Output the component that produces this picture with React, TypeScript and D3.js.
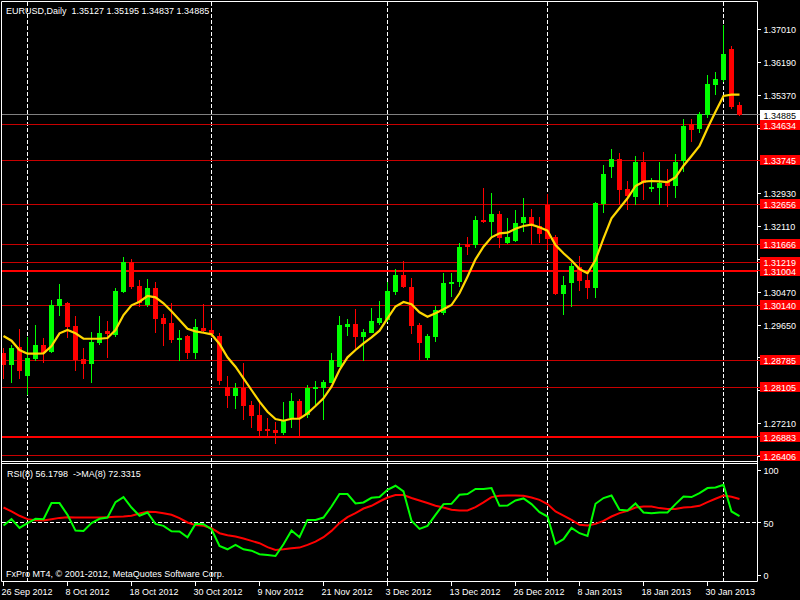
import React from 'react';
import * as d3 from 'd3';

// ---- data (EURUSD Daily, 26 Sep 2012 .. 5 Feb 2013) ----
const opens = [1.28959,1.28661,1.29101,1.28387,1.28810,1.29158,1.28984,1.30127,1.30209,1.29630,1.28810,1.28693,1.29215,1.29506,1.29406,1.30475,1.31220,1.30624,1.30152,1.30567,1.29836,1.29712,1.29282,1.29381,1.28966,1.29588,1.29531,1.29389,1.28114,1.27890,1.28097,1.27667,1.27418,1.27070,1.27045,1.26978,1.27336,1.27766,1.27418,1.28064,1.28082,1.28206,1.28619,1.29613,1.29680,1.29364,1.29449,1.29697,1.29780,1.30482,1.30897,1.30599,1.29655,1.28842,1.29364,1.29946,1.30681,1.30731,1.31668,1.31643,1.32264,1.32222,1.32413,1.31693,1.31742,1.32197,1.32339,1.32115,1.32629,1.31842,1.30425,1.30699,1.31104,1.30773,1.30582,1.32669,1.33589,1.33780,1.33034,1.32843,1.33705,1.33042,1.33067,1.33226,1.33116,1.33738,1.34650,1.34533,1.34873,1.35619,1.35743,1.36513,1.35127];
const highs = [1.29091,1.29158,1.29555,1.29364,1.29655,1.29332,1.30276,1.30674,1.30226,1.29878,1.29083,1.29481,1.29878,1.29754,1.30567,1.31345,1.31295,1.30773,1.30798,1.30716,1.29936,1.30209,1.29531,1.29406,1.29804,1.30177,1.29779,1.29463,1.28387,1.28221,1.28711,1.27766,1.27724,1.27336,1.27252,1.27741,1.27965,1.27808,1.28164,1.28263,1.28288,1.28959,1.29878,1.29804,1.30052,1.29548,1.30085,1.30251,1.30716,1.31046,1.31245,1.30815,1.29697,1.29431,1.30127,1.30954,1.30954,1.31700,1.31849,1.32363,1.33067,1.32942,1.32488,1.32321,1.32513,1.32818,1.32537,1.32346,1.32910,1.31891,1.30872,1.31188,1.31369,1.30897,1.32711,1.33631,1.34028,1.33922,1.33226,1.33854,1.33954,1.33300,1.33705,1.33531,1.33904,1.34774,1.34766,1.34948,1.35867,1.35942,1.37110,1.36588,1.35195];
const lows = [1.28313,1.28221,1.28313,1.27915,1.28768,1.28718,1.28951,1.29886,1.29324,1.28519,1.28306,1.28206,1.29158,1.28842,1.29364,1.30450,1.30549,1.30110,1.30110,1.29463,1.29140,1.29215,1.28768,1.28802,1.28802,1.29490,1.29364,1.28164,1.27600,1.27567,1.27294,1.27103,1.26872,1.26904,1.26700,1.26921,1.27103,1.26839,1.27336,1.27667,1.27294,1.28206,1.28619,1.29389,1.29058,1.28760,1.29449,1.29655,1.29737,1.30400,1.30567,1.29431,1.28785,1.28785,1.29240,1.29903,1.30358,1.30607,1.31394,1.31561,1.32197,1.31849,1.31561,1.31660,1.31717,1.31973,1.31643,1.31685,1.31519,1.30400,1.29903,1.30110,1.30507,1.30308,1.30333,1.32445,1.33308,1.32637,1.32520,1.32637,1.32761,1.32960,1.32637,1.32595,1.32811,1.33464,1.34210,1.34419,1.34791,1.35370,1.35701,1.35022,1.34837];
const closes = [1.28661,1.29091,1.28519,1.28842,1.29158,1.28966,1.30159,1.30308,1.29613,1.28785,1.28693,1.29240,1.29456,1.29439,1.30500,1.31220,1.30607,1.30194,1.30567,1.29804,1.29680,1.29290,1.29332,1.28966,1.29605,1.29506,1.29424,1.28271,1.27890,1.28082,1.27649,1.27401,1.27028,1.27028,1.26971,1.27294,1.27766,1.27336,1.28097,1.28122,1.28246,1.28785,1.29655,1.29680,1.29364,1.29481,1.29754,1.29829,1.30500,1.30897,1.30607,1.29637,1.29200,1.29381,1.30028,1.30691,1.30723,1.31600,1.31600,1.32264,1.32222,1.32413,1.31824,1.31842,1.32190,1.32339,1.32122,1.31916,1.31792,1.30425,1.30649,1.31121,1.30748,1.30574,1.32687,1.33407,1.33780,1.33017,1.32868,1.33705,1.33176,1.33092,1.33191,1.33116,1.33705,1.34600,1.34508,1.34891,1.35644,1.35768,1.36397,1.35072,1.34885];
const maValues = [1.29381,1.29265,1.29034,1.28942,1.28942,1.28951,1.29133,1.29449,1.29531,1.29449,1.29314,1.29314,1.29314,1.29332,1.29531,1.29903,1.30144,1.30234,1.30375,1.30343,1.30194,1.29995,1.29779,1.29563,1.29498,1.29463,1.29424,1.29183,1.28852,1.28619,1.28330,1.28040,1.27749,1.27500,1.27319,1.27277,1.27326,1.27326,1.27461,1.27642,1.27833,1.28122,1.28537,1.28852,1.29034,1.29200,1.29349,1.29513,1.29821,1.30115,1.30226,1.30169,1.29970,1.29861,1.29946,1.30045,1.30152,1.30443,1.30855,1.31287,1.31600,1.31834,1.31934,1.31948,1.32048,1.32115,1.32147,1.32083,1.31998,1.31643,1.31437,1.31258,1.31046,1.30940,1.31270,1.31809,1.32306,1.32555,1.32803,1.33109,1.33216,1.33233,1.33226,1.33208,1.33325,1.33613,1.33854,1.34103,1.34543,1.34955,1.35345,1.35378,1.35378];
const rsiValues = [47.1,53.2,44.9,49.4,53.5,53.2,68.5,68.5,57.3,42.3,42.0,49.4,53.5,54.7,69.4,74.2,64.3,56.4,59.5,48.7,46.8,41.7,41.4,36.0,48.7,48.4,43.6,27.7,24.5,28.7,24.5,23.2,19.8,19.1,18.1,29.3,42.3,36.0,52.5,52.5,54.7,65.2,77.1,77.1,68.1,69.1,73.5,74.2,81.2,85.0,79.6,51.6,43.9,46.8,57.3,67.5,67.8,76.4,77.1,81.9,81.9,82.8,65.9,66.2,71.0,72.9,67.5,59.9,55.7,29.6,34.1,44.9,39.8,37.2,67.8,73.3,75.7,62.1,61.4,68.1,59.5,58.9,59.5,59.5,67.5,74.8,74.2,78.0,82.8,83.4,86.0,60.5,56.1798];
const rsiMaValues = [64.3,60.5,56.4,53.2,52.2,51.9,53.2,54.4,55.1,54.7,54.7,54.7,54.7,55.1,55.4,55.7,56.4,58.5,60.2,59.9,58.9,57.3,54.2,50.0,47.5,46.8,44.6,39.8,37.9,36.6,34.7,32.5,30.3,26.5,23.9,24.5,25.5,26.1,28.7,31.8,36.0,42.0,49.4,55.1,58.9,63.3,65.9,70.0,73.8,76.1,76.1,73.3,71.0,68.5,65.9,64.3,62.1,61.4,61.4,64.7,69.1,74.2,75.5,75.7,75.7,75.5,73.8,71.6,67.5,60.5,56.6,52.5,47.8,47.1,48.7,51.6,55.7,58.9,61.1,64.3,65.2,65.2,63.7,62.8,62.8,64.3,64.7,65.9,69.4,72.6,75.7,74.5,72.3315];
const levelLines = [1.34634,1.33745,1.32656,1.31666,1.31219,1.31004,1.30140,1.28785,1.28105,1.26883,1.26406];
const strongLevels = [1.31004,1.26883];
const bidPrice = 1.34885;
const priceTicks = [1.37010,1.36190,1.35370,1.34550,1.33740,1.32930,1.32110,1.31290,1.30470,1.29650,1.28840,1.28020,1.27210,1.26390];
const rsiTicks = [100,50,0];
const headerText = 'EURUSD,Daily  1.35127 1.35195 1.34837 1.34885';
const rsiText = 'RSI(8) 56.1798  ->MA(8) 72.3315';
const copyright = 'FxPro MT4, \u00A9 2001-2012, MetaQuotes Software Corp.';
const firstDate = new Date(2012, 8, 26);
const holidays = ['2012-12-25', '2013-01-01'];

function tradingDates(n: number): Date[] {
  const out: Date[] = [];
  const d = new Date(firstDate);
  const fmt = d3.timeFormat('%Y-%m-%d');
  while (out.length < n) {
    const wd = d.getDay();
    if (wd !== 0 && wd !== 6 && !holidays.includes(fmt(d))) out.push(new Date(d));
    d.setDate(d.getDate() + 1);
  }
  return out;
}

const FONT = '"Liberation Sans", Arial, sans-serif';

export default function App() {
  const n = closes.length;
  const dates = tradingDates(n);
  const L = 1.5, R = 757.5, T = 1.5, MB = 461.5, RT = 463.5, RB = 581.5;
  const x = d3.scaleLinear().domain([0, n - 1]).range([3.5, 3.5 + 8 * (n - 1)]);
  const y = d3.scaleLinear().domain([1.2721, 1.3701]).range([423.4, 29]);
  const yr = d3.scaleLinear().domain([0, 100]).range([575, 470]);
  const fmtDate = d3.timeFormat('%-d %b %Y');

  const monthStarts = dates.map((d, i) => i).filter(i => i > 0 && dates[i].getMonth() !== dates[i - 1].getMonth());
  const labelIdx = d3.range(0, n, 8);

  const maLine = d3.line<number>().x((_, i) => x(i)).y(v => y(v));
  const rsiLine = d3.line<number>().x((_, i) => x(i)).y(v => yr(v));

  const crisp = (v: number) => Math.floor(v) + 0.5;
  const boxed = [...levelLines, bidPrice].map(v => y(v));
  const freeTicks = priceTicks.filter(v => boxed.every(b => Math.abs(y(v) - b) > 9));

  return (
    <svg width={800} height={600} style={{ position: 'fixed', left: 0, top: 0, background: '#000' }} fontFamily={FONT}>
      <defs>
        <clipPath id="mainClip"><rect x={2} y={2} width={755} height={459} /></clipPath>
        <clipPath id="rsiClip"><rect x={2} y={464} width={755} height={117} /></clipPath>
      </defs>
      <rect x={0} y={0} width={800} height={600} fill="#000" />

      {/* main panel */}
      <g clipPath="url(#mainClip)">
        {monthStarts.map(i => (
          <line key={'vg' + i} x1={x(i)} x2={x(i)} y1={2} y2={461} stroke="#fff" strokeDasharray="4,2" />
        ))}
        {levelLines.map(v => {
          const strong = strongLevels.includes(v);
          return strong
            ? <line key={'lv' + v} x1={2} x2={757} y1={Math.round(y(v))} y2={Math.round(y(v))} stroke="#ff0000" strokeWidth={2} />
            : <line key={'lv' + v} x1={2} x2={757} y1={crisp(y(v))} y2={crisp(y(v))} stroke="#c80000" strokeWidth={1} />;
        })}
        <line x1={2} x2={757} y1={crisp(y(bidPrice))} y2={crisp(y(bidPrice))} stroke="#808080" />
        {closes.map((c, i) => {
          const o = opens[i];
          const up = c >= o;
          const col = up ? '#00ff00' : '#ff0000';
          const yTop = Math.round(y(Math.max(o, c)));
          const yBot = Math.round(y(Math.min(o, c)));
          const h = Math.max(1, yBot - yTop);
          return (
            <g key={'c' + i}>
              <line x1={x(i)} x2={x(i)} y1={Math.round(y(highs[i]))} y2={Math.round(y(lows[i]))} stroke={col} />
              <rect x={x(i) - 2.5} y={yTop} width={5} height={h} fill={col} />
            </g>
          );
        })}
        <path d={maLine(maValues) || ''} fill="none" stroke="#ffd700" strokeWidth={2.2} />
      </g>

      {/* RSI panel */}
      <g clipPath="url(#rsiClip)">
        {monthStarts.map(i => (
          <line key={'rg' + i} x1={x(i)} x2={x(i)} y1={464} y2={581} stroke="#fff" strokeDasharray="4,2" />
        ))}
        <line x1={2} x2={757} y1={crisp(yr(50))} y2={crisp(yr(50))} stroke="#fff" strokeDasharray="4,2" />
        <path d={rsiLine(rsiMaValues) || ''} fill="none" stroke="#ff0000" strokeWidth={2} />
        <path d={rsiLine(rsiValues) || ''} fill="none" stroke="#00ff00" strokeWidth={2} />
      </g>

      {/* frames */}
      <g stroke="#fff" fill="none">
        <line x1={L} x2={R} y1={T} y2={T} />
        <line x1={L} x2={L} y1={T} y2={RB} />
        <line x1={R} x2={R} y1={T} y2={RB} />
        <line x1={L} x2={R} y1={MB} y2={MB} />
        <line x1={L} x2={R} y1={RT} y2={RT} />
        <line x1={L} x2={R} y1={RB} y2={RB} />
      </g>

      {/* price axis ticks */}
      {priceTicks.map(v => (
        <line key={'ptm' + v} x1={757} x2={761} y1={crisp(y(v))} y2={crisp(y(v))} stroke="#fff" />
      ))}
      {freeTicks.map(v => (
        <text key={'pt' + v} x={763.5} y={Math.round(y(v)) + 3.5} fill="#fff" fontSize={9}>{v.toFixed(5)}</text>
      ))}
      {levelLines.map(v => {
        const yy = Math.round(y(v));
        return (
          <g key={'ll' + v}>
            <line x1={757} x2={760} y1={crisp(y(v))} y2={crisp(y(v))} stroke="#ff0000" />
            <rect x={760} y={yy - 5} width={40} height={10} fill="#ff0000" />
            <text x={763.5} y={yy + 3.5} fill="#fff" fontSize={9}>{v.toFixed(5)}</text>
          </g>
        );
      })}
      <g>
        <line x1={757} x2={760} y1={crisp(y(bidPrice))} y2={crisp(y(bidPrice))} stroke="#808080" />
        <rect x={760} y={Math.round(y(bidPrice)) - 5} width={40} height={10} fill="#fff" />
        <text x={763.5} y={Math.round(y(bidPrice)) + 3.5} fill="#000" fontSize={9}>{bidPrice.toFixed(5)}</text>
      </g>

      {/* RSI axis */}
      {rsiTicks.map(v => (
        <g key={'rt' + v}>
          <line x1={757} x2={761} y1={crisp(yr(v))} y2={crisp(yr(v))} stroke="#fff" />
          <text x={763.5} y={Math.round(yr(v)) + 3.5} fill="#fff" fontSize={9}>{v}</text>
        </g>
      ))}

      {/* time axis */}
      {labelIdx.map(i => (
        <g key={'tl' + i}>
          <line x1={x(i)} x2={x(i)} y1={582} y2={586} stroke="#fff" />
          <text x={x(i) - 2} y={595} fill="#fff" fontSize={9}>{fmtDate(dates[i])}</text>
        </g>
      ))}

      {/* texts */}
      <text x={6} y={14} fill="#fff" fontSize={9} style={{ whiteSpace: 'pre' }}>{headerText}</text>
      <text x={7} y={477} fill="#fff" fontSize={9} style={{ whiteSpace: 'pre' }}>{rsiText}</text>
      <text x={6} y={577} fill="#fff" fontSize={9} style={{ whiteSpace: 'pre' }}>{copyright}</text>
    </svg>
  );
}
